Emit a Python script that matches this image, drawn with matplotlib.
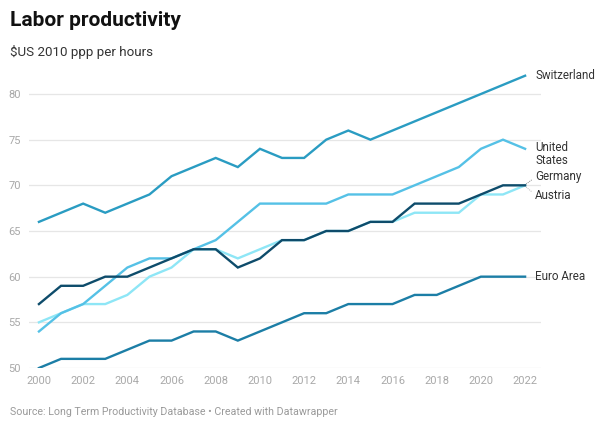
import numpy as np
import matplotlib.pyplot as plt

# ------------------ DATA ------------------
years = list(range(2000, 2023))

switzerland = [66, 67, 68, 67, 68, 69, 71, 72, 73, 72, 74, 73, 73, 75, 76, 75, 76, 77, 78, 79, 80, 81, 82]
united_states = [54, 56, 57, 59, 61, 62, 62, 63, 64, 66, 68, 68, 68, 68, 69, 69, 69, 70, 71, 72, 74, 75, 74]
germany = [57, 59, 59, 60, 60, 61, 62, 63, 63, 61, 62, 64, 64, 65, 65, 66, 66, 68, 68, 68, 69, 70, 70]
austria = [55, 56, 57, 57, 58, 60, 61, 63, 63, 62, 63, 64, 64, 65, 65, 66, 66, 67, 67, 67, 69, 69, 70]
euro_area = [50, 51, 51, 51, 52, 53, 53, 54, 54, 53, 54, 55, 56, 56, 57, 57, 57, 58, 58, 59, 60, 60, 60]

series_names = ["Switzerland", "United\nStates", "Germany", "Austria", "Euro Area"]
y_ticks = [50, 55, 60, 65, 70, 75, 80]
x_ticks = list(range(2000, 2023, 2))

# ------------------ STYLE ------------------
plt.rcParams["font.family"] = ["Roboto", "DejaVu Sans"]
colors = ["#2a9cc2", "#55c1e6", "#0e4c6b", "#8ee6f6", "#1c7ea6"]
label_offsets = [0.0, -0.6, 1.0, -1.1, 0.0]  # nudges to avoid overlaps
GRID = "#e6e6e6"
TICK = "#a8a8a8"

# ------------------ PLOT ------------------
fig = plt.figure(figsize=(6.05, 4.3), dpi=100)
ax = fig.add_axes([29 / 605, 1 - 368 / 430, (541 - 29) / 605, (368 - 66.6) / 430])

all_series = [switzerland, united_states, germany, austria, euro_area]
draw_order = [3, 4, 0, 1, 2]
for i in draw_order:
    ax.plot(years, all_series[i], color=colors[i], lw=1.7, solid_joinstyle="miter", zorder=3)

for name, vals, off in zip(series_names, all_series, label_offsets):
    ax.text(2022.45, vals[-1] + off, name, fontsize=8.4, color="#333333",
            va="center", ha="left", linespacing=1.0, clip_on=False)

# little dotted connectors for the crowded labels
ax.plot([2022.05, 2022.3], [germany[-1] + 0.15, germany[-1] + 0.6], color="#888888",
        lw=0.7, ls=(0, (1, 1)), clip_on=False)
ax.plot([2022.05, 2022.3], [austria[-1] - 0.2, austria[-1] - 0.7], color="#bbbbbb",
        lw=0.7, ls=(0, (1, 1)), clip_on=False)

ax.set_xlim(1999.55, 2022.72)
ax.set_ylim(50, 83)
ax.set_yticks(y_ticks)
ax.set_xticks(x_ticks)
for y in y_ticks:
    ax.axhline(y, color=GRID, lw=0.9, zorder=1)
ax.tick_params(axis="both", length=0, labelsize=8, labelcolor=TICK)
ax.tick_params(axis="y", pad=6)
ax.tick_params(axis="x", pad=6)
for s in ax.spines.values():
    s.set_visible(False)

# ------------------ TEXT ------------------
fig.text(10 / 605, 1 - 21 / 430, "Labor productivity", fontsize=15, fontweight="bold",
         color="#111111", va="center", ha="left")
fig.text(10 / 605, 1 - 52 / 430, "$US 2010 ppp per hours", fontsize=9.6, color="#333333",
         va="center", ha="left")
fig.text(10 / 605, 1 - 412 / 430, "Source: Long Term Productivity Database \u2022 Created with Datawrapper",
         fontsize=7.7, color="#9a9a9a", va="center", ha="left")

plt.savefig("out.png", dpi=100)
plt.close()
